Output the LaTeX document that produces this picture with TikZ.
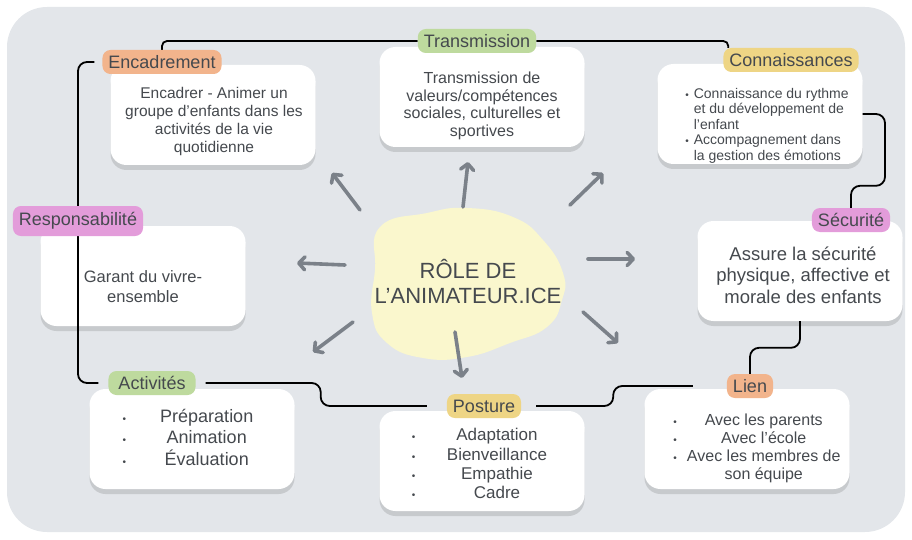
\documentclass[tikz,border=0pt]{standalone}
\usepackage{fontspec}
\setmainfont{Liberation Sans}
\usetikzlibrary{arrows.meta,shadows}

\definecolor{bg}{HTML}{E3E6EA}
\definecolor{ink}{HTML}{45494E}
\definecolor{tagorange}{HTML}{F2B48C}
\definecolor{taggreen}{HTML}{BEDA9E}
\definecolor{tagyellow}{HTML}{EED585}
\definecolor{tagpink}{HTML}{E39CDA}
\definecolor{blobyellow}{HTML}{FAF7CD}
\definecolor{spokegray}{HTML}{7B8189}

\pgfdeclarelayer{cards}
\pgfdeclarelayer{links}
\pgfsetlayers{cards,links,main}

\newcommand{\listdot}{{\fontsize{10}{10}\selectfont\textbullet}}

\begin{document}
\begin{tikzpicture}[x=1pt,y=-1pt,
  card/.style={rectangle,rounded corners=16pt,fill=white,minimum width=205pt,minimum height=100pt,
    drop shadow={shadow xshift=0pt,shadow yshift=-5pt,opacity=0.12,fill=black}},
  tag/.style={rectangle,rounded corners=8pt,minimum height=24pt,inner xsep=6pt,inner ysep=2pt,text=ink,font=\fontsize{18}{20}\selectfont},
  loopline/.style={draw=black,line width=1.8pt,rounded corners=9pt},
  spoke/.style={draw=spokegray,line width=3.6pt,line cap=round,-{Straight Barb[length=6pt,width=13pt,line cap=round,line join=round]}},
  txt/.style={text=ink,align=center}]
  \begin{pgfonlayer}{cards}
  \useasboundingbox (0,0) rectangle (912,540);
  \fill[bg,rounded corners=40pt] (7,7) rectangle (905,532);

  % cards
  \node[card] (enc) at (213,115) {};
  \node[card] (trans) at (482,97) {};
  \node[card] (conn) at (760,114) {};
  \node[card] (resp) at (143,276) {};
  \node[card] (secu) at (800,271) {};
  \node[card] (acti) at (192,439) {};
  \node[card] (post) at (482,461) {};
  \node[card] (lien) at (747,439) {};
  \end{pgfonlayer}

  % card texts
  \node[txt,font=\fontsize{15.5}{17.7}\selectfont] (enctxt) at (214,121.5) {Encadrer - Animer un\\groupe d'enfants dans les\\activités de la vie\\quotidienne};
  \node[txt,font=\fontsize{16}{17.5}\selectfont] (transtxt) at (482,106) {Transmission de\\valeurs/compétences\\sociales, culturelles et\\sportives};
  \node[txt,font=\fontsize{14}{15.5}\selectfont] (conntxt) at (767,126) {\begin{tabular}{@{}l@{\hspace{5pt}}l@{}}
    \listdot & Connaissance du rythme\\ & et du développement de\\ & l'enfant\\
    \listdot & Accompagnement dans\\ & la gestion des émotions\end{tabular}};
  \node[txt,font=\fontsize{16.5}{20}\selectfont] (resptxt) at (143,287) {Garant du vivre-\\ensemble};
  \node[txt,font=\fontsize{18.5}{21.5}\selectfont] (secutxt) at (803,275) {Assure la sécurité\\physique, affective et\\morale des enfants};
  \node[txt,font=\fontsize{18}{20.5}\selectfont] (actitxt) at (188,440) {\begin{tabular}{@{}c@{\hspace{34pt}}c@{}}
    \listdot & Préparation\\ \listdot & Animation\\ \listdot & Évaluation\end{tabular}};
  \node[txt,font=\fontsize{17}{19.3}\selectfont] (posttxt) at (479.5,466) {\begin{tabular}{@{}c@{\hspace{31.5pt}}c@{}}
    \listdot & Adaptation\\ \listdot & Bienveillance\\ \listdot & Empathie\\ \listdot & Cadre\end{tabular}};
  \node[txt,font=\fontsize{16}{18}\selectfont] (lientxt) at (757,449) {\begin{tabular}{@{}c@{\hspace{10pt}}c@{}}
    \listdot & Avec les parents\\ \listdot & Avec l'école\\ \listdot & Avec les membres de\\ & son équipe\end{tabular}};

  % centre
  \fill[blobyellow] plot[smooth cycle,tension=0.8] coordinates {(380,227) (427,213) (467,208) (513,217) (543,240) (563,273) (562,300) (547,327) (510,343) (467,357) (423,358) (387,343) (372,313) (375,270)};
  \node[txt,font=\fontsize{22}{25}\selectfont] (role) at (468,281) {RÔLE DE\\L’ANIMATEUR.ICE};

  % spokes
  \coordinate (s1) at (360,210); \coordinate (e1) at (332,173);
  \coordinate (s2) at (463,207); \coordinate (e2) at (468,162);
  \coordinate (s3) at (570,205); \coordinate (e3) at (603,173);
  \coordinate (s4) at (345,265); \coordinate (e4) at (297,263);
  \coordinate (s5) at (588,259); \coordinate (e5) at (635,259);
  \coordinate (s6) at (353,322); \coordinate (e6) at (313,352);
  \coordinate (s7) at (455,332); \coordinate (e7) at (462,378);
  \coordinate (s8) at (583,312); \coordinate (e8) at (618,343);
  \draw[spoke] (s1) -- (e1);
  \draw[spoke] (s2) -- (e2);
  \draw[spoke] (s3) -- (e3);
  \draw[spoke] (s4) -- (e4);
  \draw[spoke] (s5) -- (e5);
  \draw[spoke] (s6) -- (e6);
  \draw[spoke] (s7) -- (e7);
  \draw[spoke] (s8) -- (e8);

  % tags
  \node[tag,fill=tagorange] (enclab) at (162,62) {Encadrement};
  \node[tag,fill=taggreen] (translab) at (477,41) {Transmission};
  \node[tag,fill=tagyellow] (connlab) at (791,60) {Connaissances};
  \node[tag,fill=tagpink,minimum height=30pt] (resplab) at (78,221) {Responsabilité};
  \node[tag,fill=tagpink] (seculab) at (851,220) {Sécurité};
  \node[tag,fill=taggreen,inner xsep=10pt] (actilab) at (152,383) {Activités};
  \node[tag,fill=tagyellow] (postlab) at (484,406) {Posture};
  \node[tag,fill=tagorange] (lienlab) at (750,386) {Lien};

  % loop, under the tags
  \begin{pgfonlayer}{links}
  \draw[loopline,shorten <=8pt,shorten >=10pt] (enclab.west) -| (resplab.center) |- (actilab.west);
  \draw[loopline,shorten <=10pt,shorten >=20pt] (actilab.east) -- ++(125,0) |- (postlab.west);
  \draw[loopline,shorten <=15pt,shorten >=34pt] (postlab.east) -- ++(92,0) |- (lienlab.west);
  \draw[loopline] (lienlab.north) -- ++(0,-26) -| (secu.south);
  \draw[loopline] (seculab.north) -- ++(0,-22) -- ++(34,0) |- (conn.east);
  \draw[loopline,rounded corners=5pt] (translab.east) -| ([xshift=5pt]connlab.north west);
  \draw[loopline,rounded corners=5pt] (translab.west) -| (enclab.north);
  \end{pgfonlayer}
\end{tikzpicture}
\end{document}
